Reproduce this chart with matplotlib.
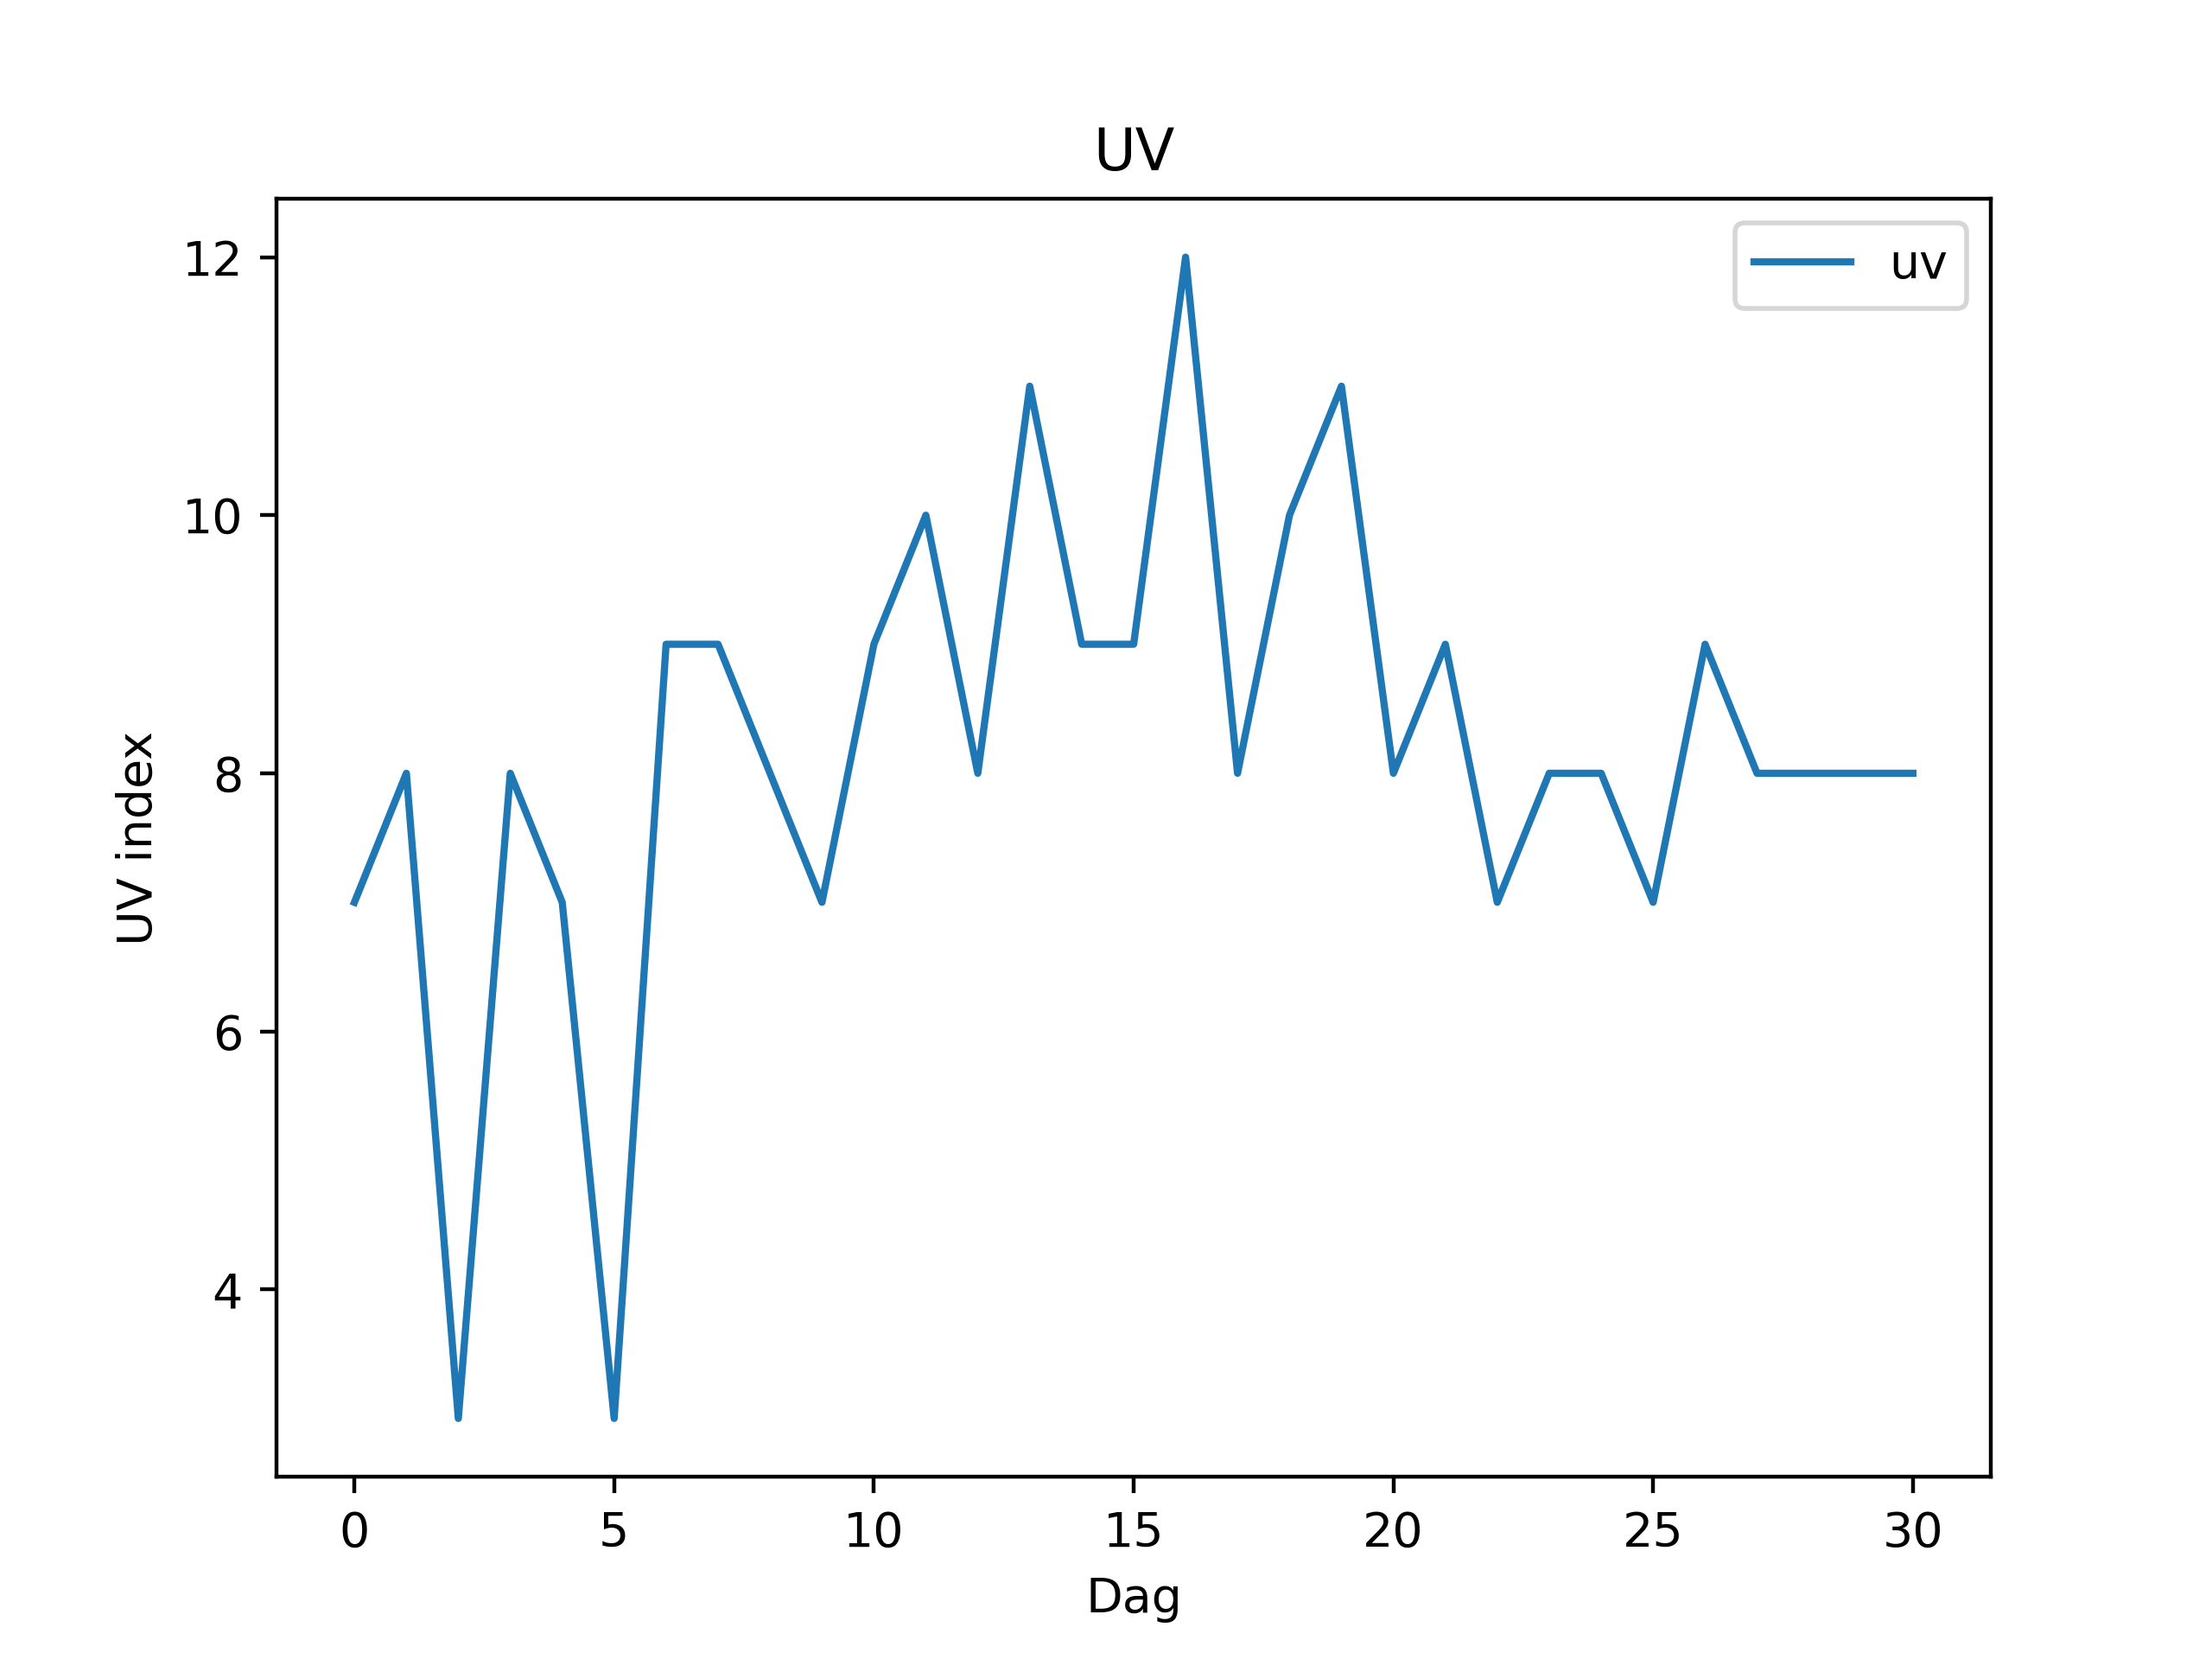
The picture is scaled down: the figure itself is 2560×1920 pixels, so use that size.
import matplotlib
matplotlib.use("Agg")
import matplotlib.pyplot as plt

dag = list(range(31))
uv = [7, 8, 3, 8, 7, 3, 9, 9, 8, 7, 9, 10, 8, 11, 9, 9, 12, 8, 10, 11,
      8, 9, 7, 8, 8, 7, 9, 8, 8, 8, 8]

fig, ax = plt.subplots(figsize=(6.4, 4.8))
ax.plot(dag, uv, label="uv")
ax.set_title("UV")
ax.set_xlabel("Dag")
ax.set_ylabel("UV index")
ax.legend(loc="upper right")

fig.savefig("out.png", dpi=400)
